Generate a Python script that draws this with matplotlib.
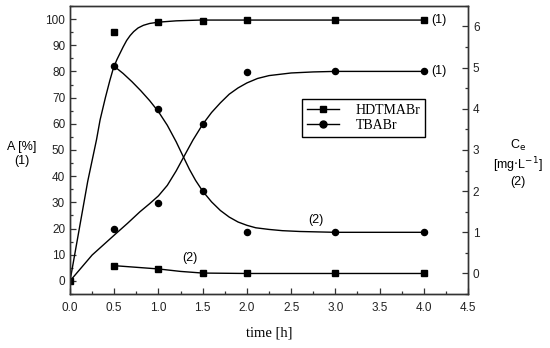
import matplotlib.pyplot as plt
from matplotlib.lines import Line2D
from matplotlib.ticker import MultipleLocator

plt.rcParams["font.family"] = "Liberation Sans"

# measured points
t_pts = [0.5, 1.0, 1.5, 2.0, 3.0, 4.0]
hd_a = [95.2, 98.9, 99.4, 99.5, 99.5, 99.5]      # HDTMABr, A [%] (1)
hd_c = [0.19, 0.11, 0.01, 0.0, 0.0, 0.0]          # HDTMABr, Ce (2)
tb_a = [19.8, 29.9, 59.8, 79.8, 80.0, 80.0]       # TBABr, A [%] (1)
tb_c = [5.05, 4.0, 2.01, 1.0, 1.0, 1.0]           # TBABr, Ce (2)

# fitted curves
hd_fit_t = [0, 0.1, 0.2, 0.3, 0.34, 0.4, 0.45, 0.49, 0.53, 0.565, 0.6, 0.64, 0.68, 0.72,
            0.77, 0.83, 0.9, 1.0, 1.2, 1.47, 2.0, 3.0, 4.0]
hd_fit_a = [0, 19, 38, 54, 61.5, 70, 76.5, 81.2, 84.5, 86.9, 89.3, 91.8, 93.7, 95.2,
            96.6, 97.6, 98.3, 98.8, 99.3, 99.6, 99.6, 99.6, 99.6]

tb_fit_t = [0, 0.25, 0.5, 0.65, 0.79, 0.9, 1.0, 1.1, 1.2, 1.28, 1.39, 1.5, 1.6, 1.7,
            1.8, 1.9, 2.0, 2.12, 2.25, 2.5, 2.75, 3.0, 4.0]
tb_fit_a = [0, 9.9, 17.5, 22.0, 26.4, 29.5, 32.5, 36.5, 42.0, 47.0, 53.8, 59.8, 64.3, 68.0,
            71.3, 73.7, 75.6, 77.3, 78.4, 79.4, 79.8, 80.0, 80.0]

tbc_fit_t = [0.49, 0.6, 0.7, 0.8, 0.9, 1.0, 1.1, 1.2, 1.28, 1.35, 1.42, 1.5, 1.6, 1.7,
             1.8, 1.9, 2.0, 2.1, 2.25, 2.4, 2.6, 3.0, 4.0]
tbc_fit_c = [5.05, 4.86, 4.66, 4.44, 4.2, 3.93, 3.6, 3.2, 2.84, 2.53, 2.26, 2.0, 1.74, 1.53,
             1.37, 1.25, 1.17, 1.11, 1.07, 1.04, 1.02, 1.0, 1.0]

hdc_fit_t = [0.5, 0.75, 1.0, 1.25, 1.5, 2.0, 3.0, 4.0]
hdc_fit_c = [0.19, 0.15, 0.11, 0.05, 0.01, 0.0, 0.0, 0.0]

fig = plt.figure(figsize=(5.5, 3.48), dpi=100)
ax = fig.add_axes([0.1273, 0.155, 0.7237, 0.828])
ax2 = ax.twinx()

lw = 1.0
ms = 3.8
# left axis: A [%]
ax.plot(hd_fit_t, hd_fit_a, 'k-', lw=lw)
ax.plot(tb_fit_t, tb_fit_a, 'k-', lw=lw)
ax.plot(t_pts, hd_a, 'ks', ms=ms, ls='none')
ax.plot(t_pts, tb_a, 'ko', ms=ms + 0.6, ls='none')
ax.plot([0], [0], 'ks', ms=ms, ls='none')

# right axis: Ce
ax2.plot(tbc_fit_t, tbc_fit_c, 'k-', lw=lw)
ax2.plot(hdc_fit_t, hdc_fit_c, 'k-', lw=lw)
ax2.plot(t_pts, hd_c, 'ks', ms=ms, ls='none')
ax2.plot(t_pts, tb_c, 'ko', ms=ms + 0.6, ls='none')

ax.set_xlim(0, 4.5)
ax.set_ylim(-5, 105)
ax2.set_ylim(-0.5, 6.5)

ax.xaxis.set_minor_locator(MultipleLocator(0.25))
ax.yaxis.set_minor_locator(MultipleLocator(5))
ax2.yaxis.set_minor_locator(MultipleLocator(0.5))
ax.set_yticks(range(0, 101, 10))
ax2.set_yticks(range(0, 7))
ax.set_xticks([0, 0.5, 1, 1.5, 2, 2.5, 3, 3.5, 4, 4.5])
ax.set_xticklabels(['0.0', '0.5', '1.0', '1.5', '2.0', '2.5', '3.0', '3.5', '4.0', '4.5'])

for a in (ax, ax2):
    a.tick_params(which='both', direction='in', labelsize=8.5, colors='#333333', labelcolor='#222222')
    a.tick_params(which='major', length=4, width=0.9)
    a.tick_params(which='minor', length=2.5, width=0.9)
    for s in a.spines.values():
        s.set_linewidth(1.0)
        s.set_color('#333333')
ax.tick_params(axis='x', pad=6)

ax.set_xlabel('time [h]', fontsize=10.5, family='Liberation Serif', labelpad=9)
fig.text(0.04, 0.557, 'A [%]\n(1)', ha='center', va='center', fontsize=9, linespacing=1.25)
fig.text(0.942, 0.532, 'C$_\\mathrm{e}$\n[mg$\\cdot$L$^{-1}$]\n(2)', ha='center', va='center',
         fontsize=9, linespacing=1.15)

# curve labels
ax.text(4.08, 99.5, '(1)', fontsize=9, va='center')
ax.text(4.08, 80, '(1)', fontsize=9, va='center')
ax.text(2.78, 23.3, '(2)', fontsize=9, ha='center', va='center')
ax.text(1.36, 8.8, '(2)', fontsize=9, ha='center', va='center')

handles = [Line2D([], [], color='k', marker='s', ms=ms + 0.5, lw=lw),
           Line2D([], [], color='k', marker='o', ms=ms + 1.2, lw=lw)]
leg = ax2.legend(handles, ['HDTMABr', 'TBABr'], loc='upper left',
                 bbox_to_anchor=(0.583, 0.677), fancybox=False, edgecolor='k',
                 framealpha=1, handlelength=2.3, handletextpad=1.2, borderpad=0.35,
                 labelspacing=0.15, borderaxespad=0,
                 prop={'family': 'Liberation Serif', 'size': 10})
leg.get_frame().set_linewidth(1.0)

fig.savefig('out.png', dpi=100)
